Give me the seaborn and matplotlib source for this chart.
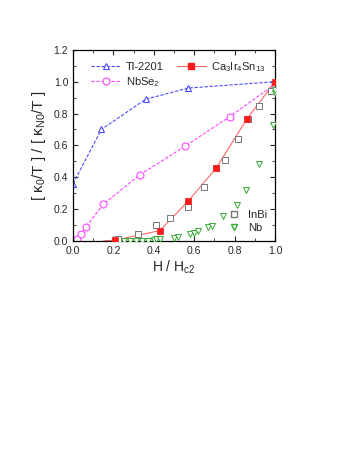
import seaborn as sns
import matplotlib.pyplot as plt
from matplotlib.ticker import MultipleLocator

# Tl-2201
tl_h = [0.0, 0.14, 0.36, 0.57, 1.0]
tl_k = [0.36, 0.70, 0.89, 0.96, 1.0]

# NbSe2
nbse_h = [0.0, 0.02, 0.04, 0.065, 0.15, 0.33, 0.555, 0.775, 1.0]
nbse_k = [0.0, 0.01, 0.045, 0.09, 0.23, 0.415, 0.595, 0.78, 0.985]

# Ca3Ir4Sn13 (line starts at H ~ 0.15)
ca_line_h = [0.15, 0.21, 0.43, 0.57, 0.71, 0.86, 1.0]
ca_line_k = [0.0, 0.005, 0.065, 0.25, 0.46, 0.765, 1.0]
ca_h = [0.21, 0.43, 0.57, 0.71, 0.86, 1.0]
ca_k = [0.005, 0.065, 0.25, 0.46, 0.765, 1.0]

# InBi
inbi_h = [0.22, 0.32, 0.41, 0.48, 0.57, 0.65, 0.71, 0.75, 0.815, 0.865, 0.92, 0.98]
inbi_k = [0.015, 0.045, 0.10, 0.145, 0.215, 0.34, 0.455, 0.51, 0.64, 0.765, 0.845, 0.94]

# Nb
nb_h = [0.25, 0.28, 0.31, 0.34, 0.37, 0.40, 0.41, 0.43, 0.50, 0.52, 0.58, 0.60,
        0.62, 0.67, 0.69, 0.74, 0.81, 0.855, 0.92, 0.99, 1.0, 1.0]
nb_k = [0.0, 0.0, 0.0, 0.0, 0.0, 0.005, 0.01, 0.01, 0.02, 0.025, 0.045, 0.05,
        0.06, 0.085, 0.095, 0.155, 0.225, 0.32, 0.48, 0.73, 0.93, 0.95]

sns.set_style("ticks")
plt.rcParams['font.family'] = ['Liberation Sans', 'DejaVu Sans']
plt.rcParams['mathtext.fontset'] = 'custom'
plt.rcParams['mathtext.rm'] = 'Liberation Sans'
plt.rcParams['mathtext.it'] = 'Liberation Sans'

fig = plt.figure(figsize=(3.6, 4.66), dpi=100)
ax = fig.add_axes([0.203, 0.483, 0.561, 0.410])

blue = "#4a4aff"
mag = "#ff44ff"
red = "#ff1a1a"

sns.lineplot(x=tl_h, y=tl_k, ax=ax, color=blue, lw=0.8, linestyle=(0, (3, 1.5)),
             marker="^", markersize=5, markerfacecolor="white", markeredgecolor=blue,
             markeredgewidth=0.8, sort=False, label="Tl-2201")
sns.lineplot(x=nbse_h, y=nbse_k, ax=ax, color=mag, lw=0.8, linestyle=(0, (3, 1.5)),
             marker="o", markersize=5, markerfacecolor="white", markeredgecolor=mag,
             markeredgewidth=0.8, sort=False, label="NbSe$_2$")
sns.lineplot(x=ca_line_h, y=ca_line_k, ax=ax, color="#ff6666", lw=0.8, sort=False)
sns.scatterplot(x=inbi_h, y=inbi_k, ax=ax, marker="s", s=14, facecolor="white",
                edgecolor="#777777", linewidth=0.7, zorder=3)
sns.scatterplot(x=nb_h, y=nb_k, ax=ax, marker="v", s=18, facecolor="white",
                edgecolor="#33aa33", linewidth=0.7, zorder=3)
sns.scatterplot(x=ca_h, y=ca_k, ax=ax, marker="s", s=18, color=red,
                edgecolor=red, linewidth=0.5, zorder=4)

# legend handles
h_ca, = ax.plot([], [], color="#ff6666", lw=0.8, marker="s", markersize=4.5,
                markerfacecolor=red, markeredgecolor=red)
h_inbi, = ax.plot([], [], ls="none", marker="s", markersize=4.5,
                  markerfacecolor="white", markeredgecolor="#777777")
h_nb, = ax.plot([], [], ls="none", marker="v", markersize=5,
                markerfacecolor="white", markeredgecolor="#33aa33")
lines = ax.get_lines()
h_tl, h_nbse = lines[0], lines[1]

leg1 = ax.legend([h_tl, h_nbse, h_ca], ["Tl-2201", "NbSe$_2$", "Ca$_3$Ir$_4$Sn$_{13}$"],
                 ncol=2, loc="upper left", bbox_to_anchor=(0.04, 1.0), frameon=False,
                 fontsize=8, handlelength=2.6, columnspacing=1.2, labelspacing=0.3,
                 handletextpad=0.5)
ax.add_artist(leg1)
ax.legend([h_inbi, h_nb], ["InBi", "Nb"], loc="lower right", frameon=False,
          fontsize=8, handlelength=1.0, labelspacing=0.3, handletextpad=0.8,
          borderaxespad=0.3)

ax.set_xlim(0, 1.0)
ax.set_ylim(0, 1.2)
ax.xaxis.set_major_locator(MultipleLocator(0.2))
ax.xaxis.set_minor_locator(MultipleLocator(0.1))
ax.yaxis.set_major_locator(MultipleLocator(0.2))
ax.yaxis.set_minor_locator(MultipleLocator(0.1))
ax.xaxis.set_major_formatter(lambda v, p: f"{v:.1f}")
ax.yaxis.set_major_formatter(lambda v, p: f"{v:.1f}")
ax.tick_params(which="both", direction="in", top=True, right=True, labelsize=7.5)
ax.tick_params(which="major", length=3.5, width=0.8)
ax.tick_params(which="minor", length=2, width=0.6)
for sp in ax.spines.values():
    sp.set_linewidth(0.9)
    sp.set_color("black")

ax.set_xlabel("H / H$_{c2}$", fontsize=10, labelpad=2)
ax.set_ylabel("[ κ$_0$/T ] / [ κ$_{N0}$/T ]", fontsize=11, labelpad=4)

plt.savefig("out.png", dpi=100)
